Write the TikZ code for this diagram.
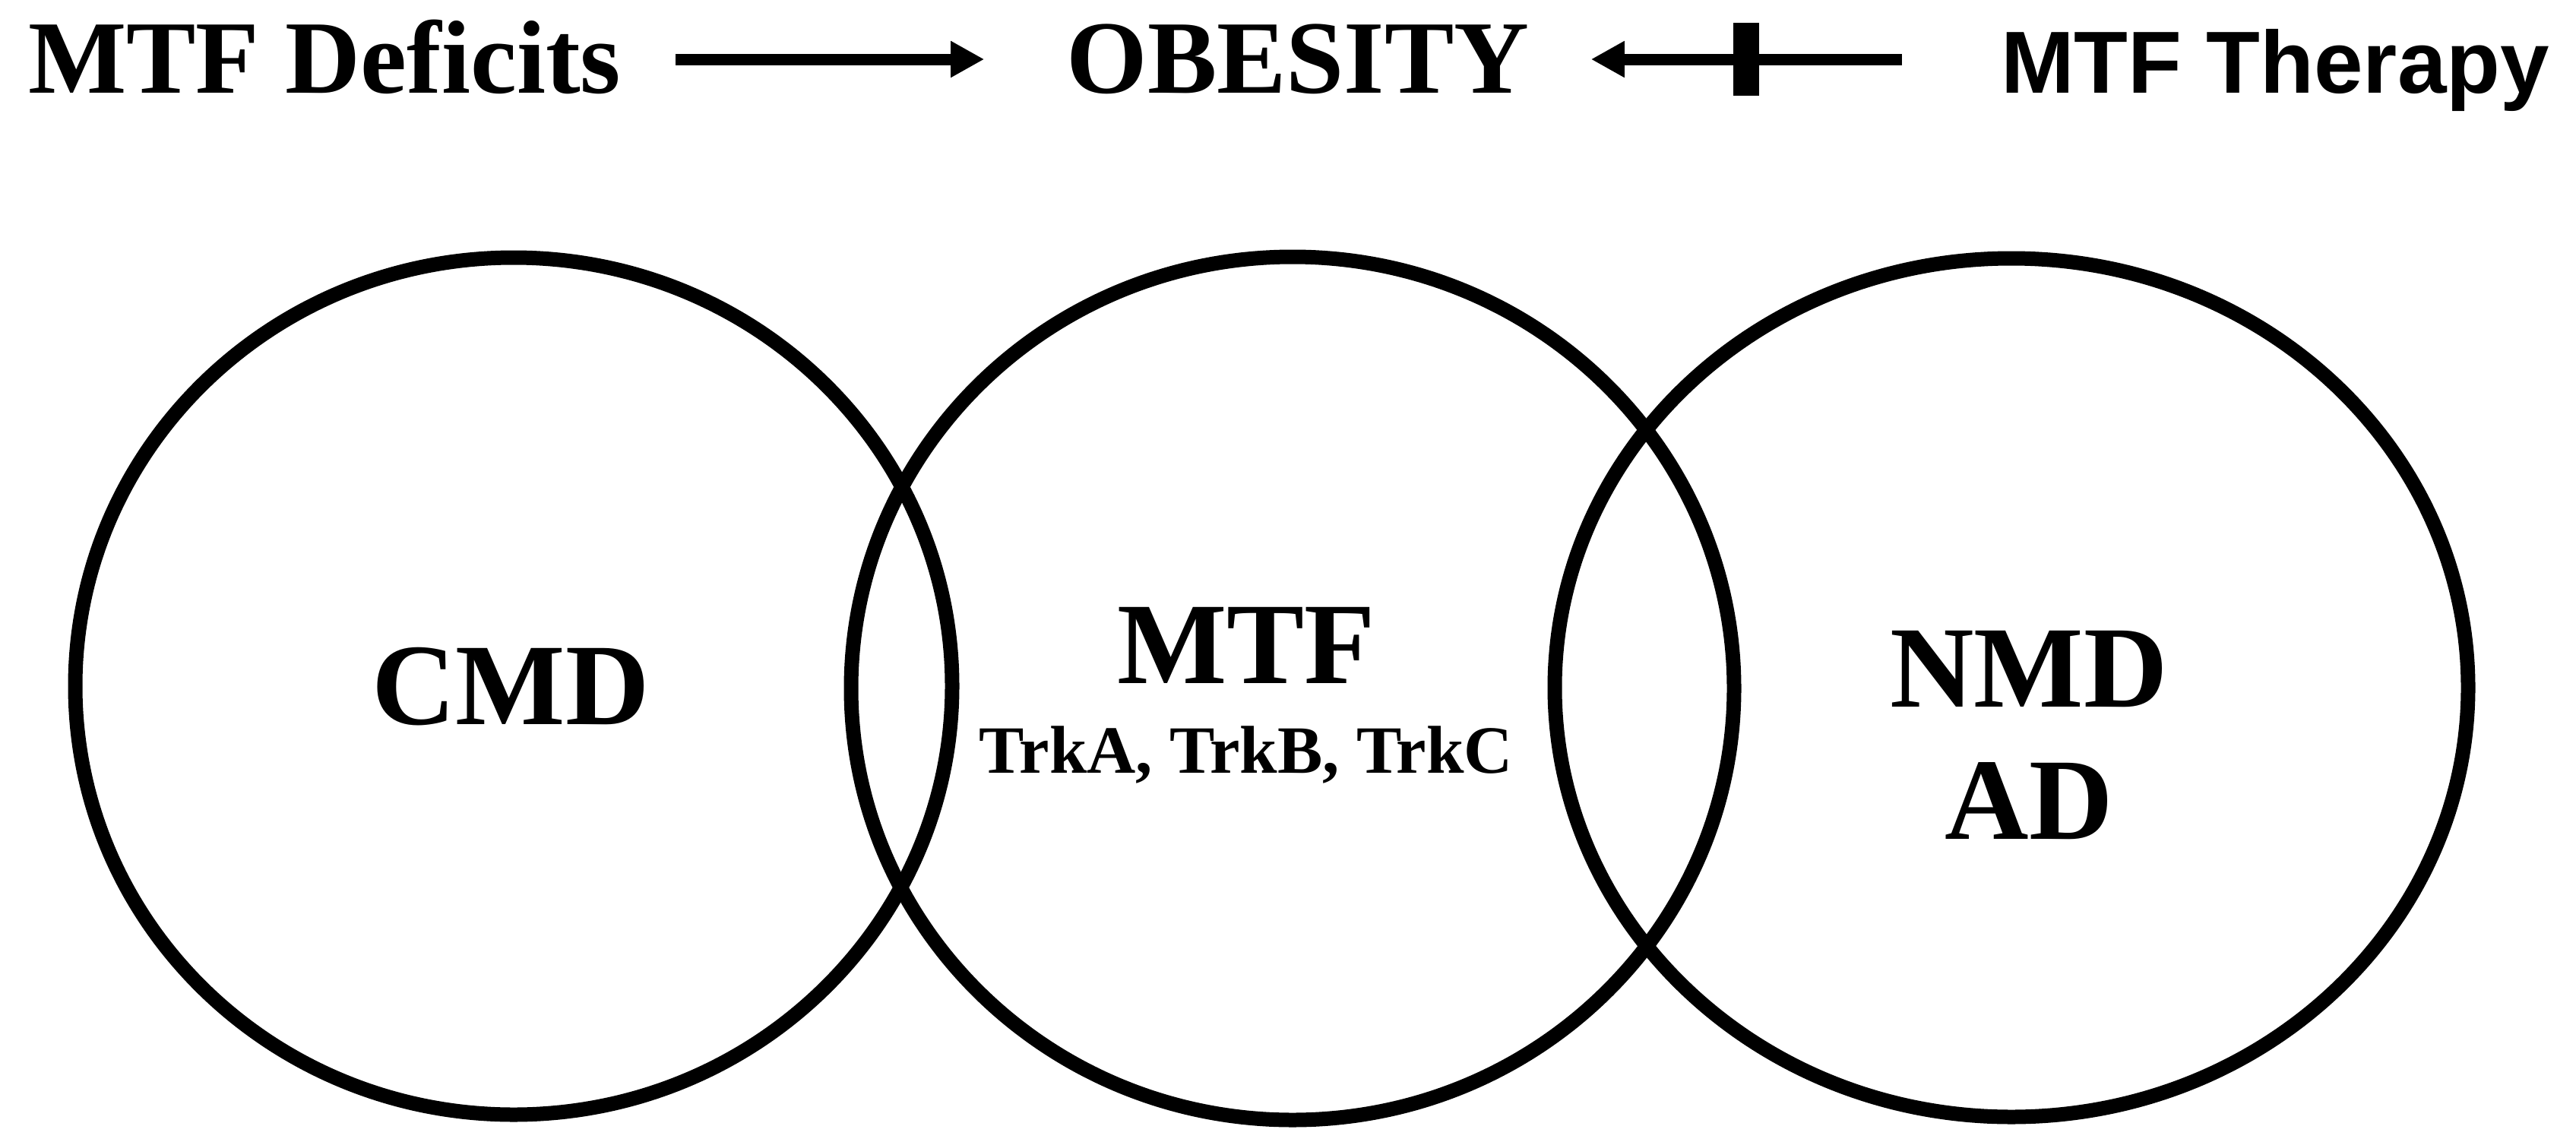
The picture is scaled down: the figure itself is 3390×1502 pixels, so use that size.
\documentclass[tikz,border=0pt]{standalone}
\usepackage{fontspec}
\setmainfont{Liberation Serif}
\newfontfamily\therapyfont{Liberation Sans}
\usetikzlibrary{arrows.meta,calc}
\tikzset{ring/.style={line width=19pt},
  toplbl/.style={inner sep=0pt,anchor=base,text height=88pt,text depth=0pt,font=\fontsize{137}{140}\selectfont\bfseries},
  setlbl/.style={inner sep=0pt,anchor=base,align=center,font=\fontsize{153}{174}\selectfont\bfseries},
  fat/.style={line width=15pt,-{Triangle[length=44pt,width=45pt]}},
  blocker/.style={fill=black,inner sep=0pt,minimum width=34pt,minimum height=96pt}}

\begin{document}
\begin{tikzpicture}[x=1pt,y=-1pt]
  \useasboundingbox (0,0) rectangle (3390,1502);
  % top row
  \node[toplbl,anchor=base west] (deficits) at (37,122) {MTF Deficits};
  \node[toplbl] (obesity) at (1708,122) {OBESITY};
  \node[toplbl,anchor=base west,font=\fontsize{116}{120}\selectfont\therapyfont\bfseries] (therapy) at (2633,122) {MTF Therapy};
  \draw[fat,shorten <=72pt,shorten >=108pt] (deficits.east) -- (obesity.west);
  \draw[fat,shorten <=130pt,shorten >=81pt] (therapy.west) -- (obesity.east);
  \node[blocker] (bar) at ($(obesity.east)!0.46!(therapy.west)$) {};
  % the three sets
  \draw[ring] (676,903) ellipse [x radius=577pt,y radius=564pt];
  \draw[ring] (1701,906) ellipse [x radius=581pt,y radius=568pt];
  \draw[ring] (2647,905) ellipse [x radius=601pt,y radius=565pt];
  \node[setlbl] (cmd) at (672,953) {CMD};
  \node[setlbl] (mtf) at (1640,899) {MTF};
  \node[setlbl,font=\fontsize{89}{95}\selectfont\bfseries] (trk) at (1640,1017) {TrkA, TrkB, TrkC};
  \node[setlbl,anchor=center] (nmd) at (2670,968) {NMD\\AD};
\end{tikzpicture}
\end{document}
